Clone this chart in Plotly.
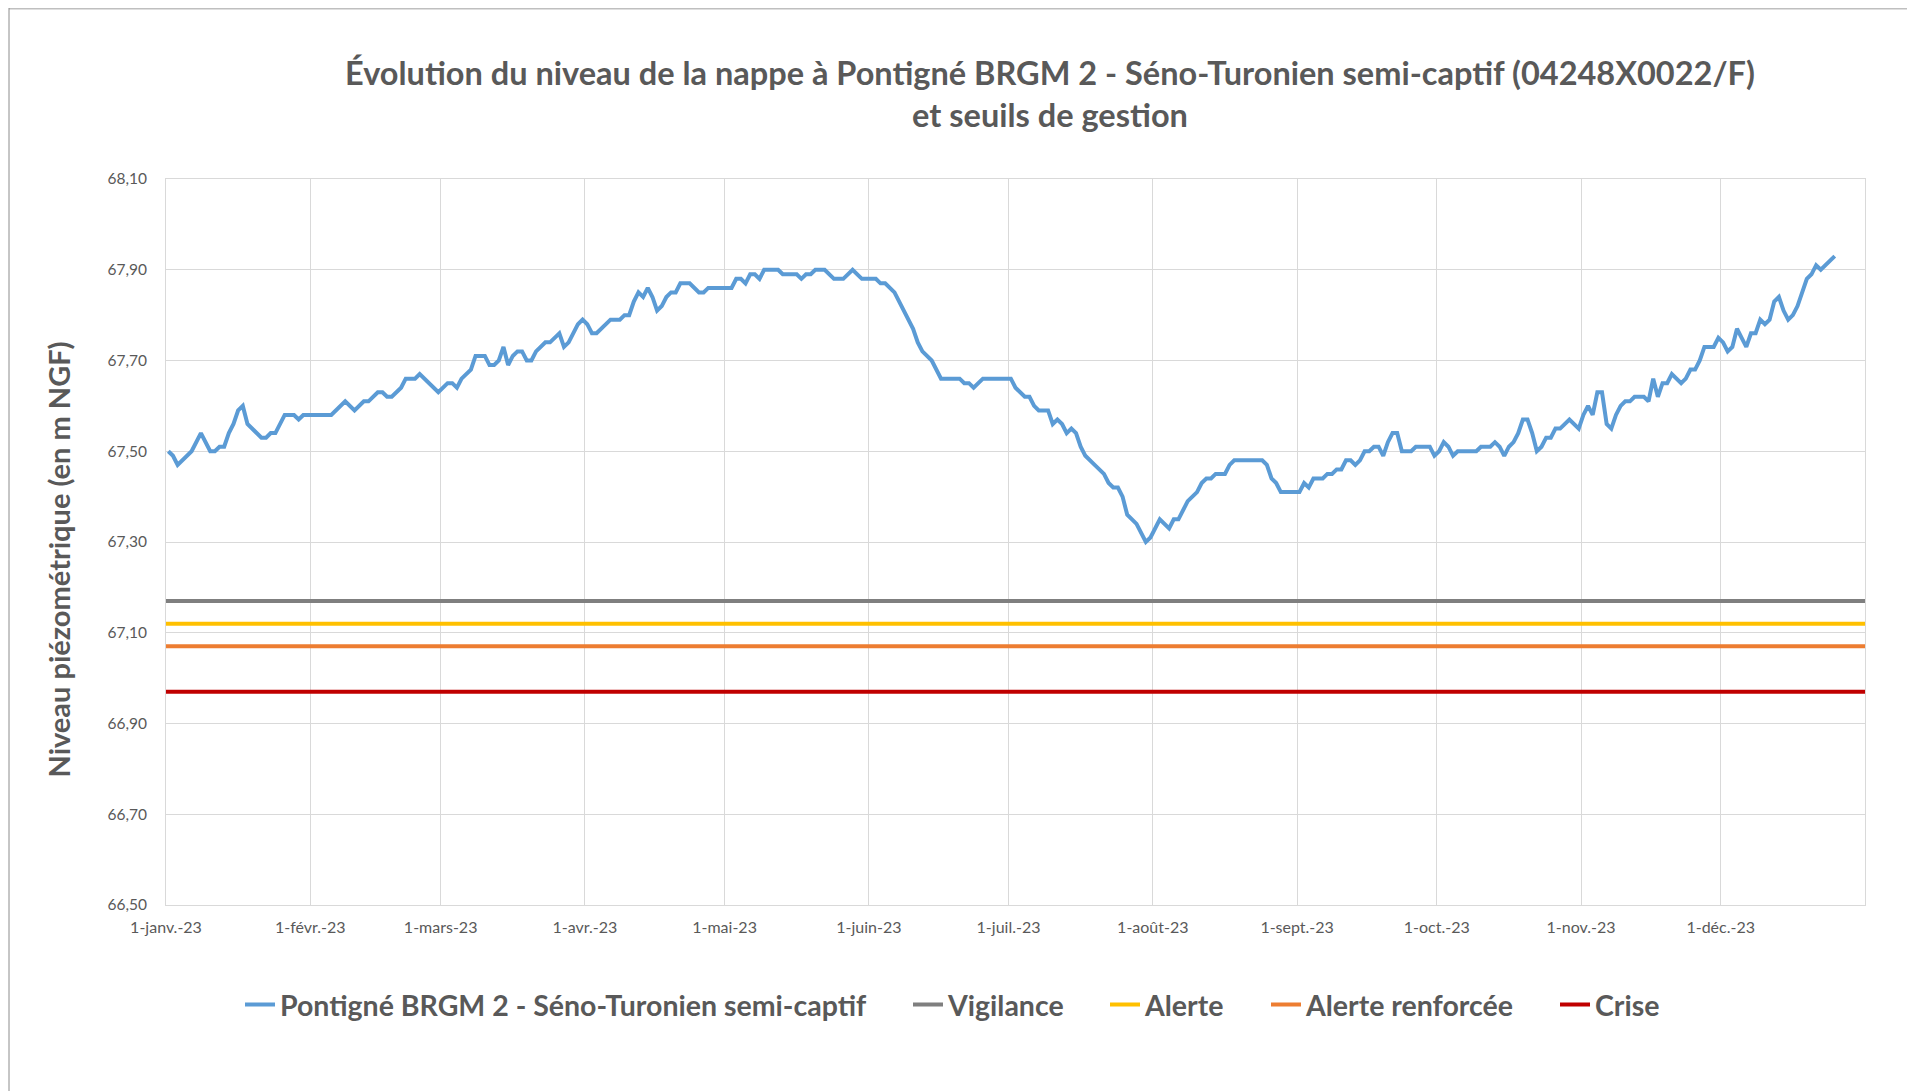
import pandas as pd
import plotly.graph_objects as go

# ---------------- data ----------------
measure_dates = [
    "2023-01-01", "2023-01-02", "2023-01-03", "2023-01-06", "2023-01-08", "2023-01-10", "2023-01-11",
    "2023-01-12", "2023-01-13", "2023-01-14", "2023-01-15", "2023-01-16", "2023-01-17", "2023-01-18",
    "2023-01-21", "2023-01-22", "2023-01-23", "2023-01-24", "2023-01-26", "2023-01-28", "2023-01-29",
    "2023-01-30", "2023-02-05", "2023-02-08", "2023-02-10", "2023-02-12", "2023-02-13", "2023-02-15",
    "2023-02-16", "2023-02-17", "2023-02-18", "2023-02-20", "2023-02-21", "2023-02-23", "2023-02-24",
    "2023-02-28", "2023-03-02", "2023-03-03", "2023-03-04", "2023-03-05", "2023-03-07", "2023-03-08",
    "2023-03-10", "2023-03-11", "2023-03-12", "2023-03-13", "2023-03-14", "2023-03-15", "2023-03-16",
    "2023-03-17", "2023-03-18", "2023-03-19", "2023-03-20", "2023-03-21", "2023-03-23", "2023-03-24",
    "2023-03-26", "2023-03-27", "2023-03-28", "2023-03-30", "2023-03-31", "2023-04-01", "2023-04-02",
    "2023-04-03", "2023-04-06", "2023-04-08", "2023-04-09", "2023-04-10", "2023-04-11", "2023-04-12",
    "2023-04-13", "2023-04-14", "2023-04-15", "2023-04-16", "2023-04-17", "2023-04-18", "2023-04-19",
    "2023-04-20", "2023-04-21", "2023-04-23", "2023-04-25", "2023-04-26", "2023-04-27", "2023-05-02",
    "2023-05-03", "2023-05-04", "2023-05-05", "2023-05-06", "2023-05-07", "2023-05-08", "2023-05-09",
    "2023-05-12", "2023-05-13", "2023-05-16", "2023-05-17", "2023-05-18", "2023-05-19", "2023-05-20",
    "2023-05-22", "2023-05-24", "2023-05-26", "2023-05-28", "2023-05-30", "2023-06-02", "2023-06-03",
    "2023-06-04", "2023-06-06", "2023-06-10", "2023-06-11", "2023-06-12", "2023-06-14", "2023-06-16",
    "2023-06-20", "2023-06-21", "2023-06-22", "2023-06-23", "2023-06-25", "2023-07-01", "2023-07-02",
    "2023-07-04", "2023-07-05", "2023-07-06", "2023-07-07", "2023-07-09", "2023-07-10", "2023-07-11",
    "2023-07-12", "2023-07-13", "2023-07-14", "2023-07-15", "2023-07-16", "2023-07-17", "2023-07-19",
    "2023-07-21", "2023-07-22", "2023-07-23", "2023-07-24", "2023-07-25", "2023-07-26", "2023-07-28",
    "2023-07-30", "2023-07-31", "2023-08-02", "2023-08-04", "2023-08-05", "2023-08-06", "2023-08-08",
    "2023-08-10", "2023-08-11", "2023-08-12", "2023-08-13", "2023-08-14", "2023-08-16", "2023-08-17",
    "2023-08-18", "2023-08-24", "2023-08-25", "2023-08-26", "2023-08-27", "2023-08-28", "2023-09-01",
    "2023-09-02", "2023-09-03", "2023-09-04", "2023-09-06", "2023-09-07", "2023-09-08", "2023-09-09",
    "2023-09-10", "2023-09-11", "2023-09-12", "2023-09-13", "2023-09-14", "2023-09-15", "2023-09-16",
    "2023-09-17", "2023-09-18", "2023-09-19", "2023-09-20", "2023-09-21", "2023-09-22", "2023-09-23",
    "2023-09-25", "2023-09-26", "2023-09-29", "2023-09-30", "2023-10-01", "2023-10-02", "2023-10-03",
    "2023-10-04", "2023-10-05", "2023-10-09", "2023-10-10", "2023-10-12", "2023-10-13", "2023-10-14",
    "2023-10-15", "2023-10-16", "2023-10-17", "2023-10-18", "2023-10-19", "2023-10-20", "2023-10-21",
    "2023-10-22", "2023-10-23", "2023-10-24", "2023-10-25", "2023-10-26", "2023-10-27", "2023-10-29",
    "2023-10-31", "2023-11-01", "2023-11-02", "2023-11-03", "2023-11-04", "2023-11-05", "2023-11-06",
    "2023-11-07", "2023-11-08", "2023-11-09", "2023-11-10", "2023-11-11", "2023-11-12", "2023-11-14",
    "2023-11-15", "2023-11-16", "2023-11-17", "2023-11-18", "2023-11-19", "2023-11-20", "2023-11-22",
    "2023-11-23", "2023-11-24", "2023-11-25", "2023-11-26", "2023-11-27", "2023-11-29", "2023-11-30",
    "2023-12-01", "2023-12-02", "2023-12-03", "2023-12-04", "2023-12-05", "2023-12-06", "2023-12-07",
    "2023-12-08", "2023-12-09", "2023-12-10", "2023-12-11", "2023-12-12", "2023-12-13", "2023-12-14",
    "2023-12-15", "2023-12-16", "2023-12-17", "2023-12-18", "2023-12-19", "2023-12-20", "2023-12-21",
    "2023-12-22", "2023-12-25",
]

niveau = [
    67.50, 67.49, 67.47, 67.50, 67.54, 67.50, 67.50,
    67.51, 67.51, 67.54, 67.56, 67.59, 67.60, 67.56,
    67.53, 67.53, 67.54, 67.54, 67.58, 67.58, 67.57,
    67.58, 67.58, 67.61, 67.59, 67.61, 67.61, 67.63,
    67.63, 67.62, 67.62, 67.64, 67.66, 67.66, 67.67,
    67.63, 67.65, 67.65, 67.64, 67.66, 67.68, 67.71,
    67.71, 67.69, 67.69, 67.70, 67.73, 67.69, 67.71,
    67.72, 67.72, 67.70, 67.70, 67.72, 67.74, 67.74,
    67.76, 67.73, 67.74, 67.78, 67.79, 67.78, 67.76,
    67.76, 67.79, 67.79, 67.80, 67.80, 67.83, 67.85,
    67.84, 67.86, 67.84, 67.81, 67.82, 67.84, 67.85,
    67.85, 67.87, 67.87, 67.85, 67.85, 67.86, 67.86,
    67.88, 67.88, 67.87, 67.89, 67.89, 67.88, 67.90,
    67.90, 67.89, 67.89, 67.88, 67.89, 67.89, 67.90,
    67.90, 67.88, 67.88, 67.90, 67.88, 67.88, 67.87,
    67.87, 67.85, 67.77, 67.74, 67.72, 67.70, 67.66,
    67.66, 67.65, 67.65, 67.64, 67.66, 67.66, 67.64,
    67.62, 67.62, 67.60, 67.59, 67.59, 67.56, 67.57,
    67.56, 67.54, 67.55, 67.54, 67.51, 67.49, 67.47,
    67.45, 67.43, 67.42, 67.42, 67.40, 67.36, 67.34,
    67.30, 67.31, 67.35, 67.33, 67.35, 67.35, 67.39,
    67.41, 67.43, 67.44, 67.44, 67.45, 67.45, 67.47,
    67.48, 67.48, 67.47, 67.44, 67.43, 67.41, 67.41,
    67.43, 67.42, 67.44, 67.44, 67.45, 67.45, 67.46,
    67.46, 67.48, 67.48, 67.47, 67.48, 67.50, 67.50,
    67.51, 67.51, 67.49, 67.52, 67.54, 67.54, 67.50,
    67.50, 67.51, 67.51, 67.49, 67.50, 67.52, 67.51,
    67.49, 67.50, 67.50, 67.51, 67.51, 67.52, 67.51,
    67.49, 67.51, 67.52, 67.54, 67.57, 67.57, 67.54,
    67.50, 67.51, 67.53, 67.53, 67.55, 67.55, 67.57,
    67.55, 67.58, 67.60, 67.58, 67.63, 67.63, 67.56,
    67.55, 67.58, 67.60, 67.61, 67.61, 67.62, 67.62,
    67.61, 67.66, 67.62, 67.65, 67.65, 67.67, 67.65,
    67.66, 67.68, 67.68, 67.70, 67.73, 67.73, 67.75,
    67.74, 67.72, 67.73, 67.77, 67.75, 67.73, 67.76,
    67.76, 67.79, 67.78, 67.79, 67.83, 67.84, 67.81,
    67.79, 67.80, 67.82, 67.85, 67.88, 67.89, 67.91,
    67.90, 67.93,
]

seuil_names = ["Vigilance", "Alerte", "Alerte renforcée", "Crise"]
seuil_values = [67.17, 67.12, 67.07, 66.97]
seuil_span = ["2023-01-01", "2024-01-01"]

series_name = "Pontigné BRGM 2 - Séno-Turonien semi-captif"

x_tick_dates = ["2023-01-01", "2023-02-01", "2023-03-01", "2023-04-01", "2023-05-01", "2023-06-01",
                "2023-07-01", "2023-08-01", "2023-09-01", "2023-10-01", "2023-11-01", "2023-12-01"]
x_tick_text = ["1-janv.-23", "1-févr.-23", "1-mars-23", "1-avr.-23", "1-mai-23", "1-juin-23",
               "1-juil.-23", "1-août-23", "1-sept.-23", "1-oct.-23", "1-nov.-23", "1-déc.-23"]
y_tick_vals = [66.50, 66.70, 66.90, 67.10, 67.30, 67.50, 67.70, 67.90, 68.10]
y_tick_text = ["66,50", "66,70", "66,90", "67,10", "67,30", "67,50", "67,70", "67,90", "68,10"]

title_text = ("Évolution du niveau de la nappe à Pontigné BRGM 2 - Séno-Turonien semi-captif (04248X0022/F)"
              "<br>et seuils de gestion")
y_title = "Niveau piézométrique (en m NGF)"

# ---------------- style ----------------
TEXT = "#595959"
GRID = "#D9D9D9"
FONT = "Lato"
seuil_colors = ["#7F7F7F", "#FFC000", "#ED7D31", "#C00000"]

# the page body adds an 8 px margin, so the figure is 8 px smaller
W, H = 1907, 1083
L, R, T, B = 158, 50, 171, 186
pw, ph = W - L - R, H - T - B

def px_x(px):
    return (px - L) / pw

def px_y(py):
    return (H - B - py) / ph

# legend entry text starts (figure px) for each series
legend_text_x = [273, 941, 1138, 1299, 1588]
legend_names = ["legend", "legend2", "legend3", "legend4", "legend5"]

# points are drawn in the middle of each day (Excel "between tick marks")
x_meas = pd.to_datetime(measure_dates) + pd.Timedelta(hours=12)

fig = go.Figure()
fig.add_trace(go.Scatter(
    x=x_meas, y=niveau, mode="lines", name=series_name, legend=legend_names[0],
    line=dict(color="#5B9BD5", width=4, shape="linear"),
))
for i, (name, val, col) in enumerate(zip(seuil_names, seuil_values, seuil_colors)):
    fig.add_trace(go.Scatter(
        x=pd.to_datetime(seuil_span), y=[val, val], mode="lines", name=name,
        legend=legend_names[i + 1],
        line=dict(color=col, width=4),
    ))

legend_font = dict(family=FONT, size=28.5, color=TEXT, weight="bold")
legend_layout = {}
for lname, tx in zip(legend_names, legend_text_x):
    legend_layout[lname] = dict(
        orientation="h", x=px_x(tx - 41), xanchor="left", y=px_y(997), yanchor="middle",
        font=legend_font, itemwidth=30, bgcolor="rgba(0,0,0,0)", borderwidth=0,
    )

fig.update_layout(
    width=W, height=H,
    margin=dict(l=L, r=R, t=T, b=B, autoexpand=False),
    paper_bgcolor="white", plot_bgcolor="white",
    font=dict(family=FONT, color=TEXT),
    title=dict(
        text=title_text, x=px_x(1042), xanchor="center", xref="paper",
        y=1 - 77 / H, yanchor="top", yref="container",
        font=dict(family=FONT, size=32.5, color=TEXT, weight="bold"),
    ),
    showlegend=True,
    xaxis=dict(
        type="date", range=["2023-01-01", "2024-01-01"],
        tickvals=pd.to_datetime(x_tick_dates), ticktext=x_tick_text,
        showgrid=True, gridcolor=GRID, gridwidth=1,
        showline=True, linecolor=GRID, linewidth=1, mirror=True,
        ticks="outside", ticklen=8, tickcolor="rgba(0,0,0,0)",
        tickfont=dict(family=FONT, size=16, color=TEXT),
        zeroline=False,
    ),
    yaxis=dict(
        range=[66.50, 68.10],
        tickvals=y_tick_vals, ticktext=y_tick_text,
        showgrid=True, gridcolor=GRID, gridwidth=1,
        showline=True, linecolor=GRID, linewidth=1, mirror=True,
        ticks="outside", ticklen=15, tickcolor="rgba(0,0,0,0)",
        tickfont=dict(family=FONT, size=15.5, color=TEXT),
        zeroline=False,
    ),
    annotations=[
        dict(text=y_title, textangle=-90, xref="paper", yref="paper",
             x=px_x(49.5), y=px_y(552), xanchor="center", yanchor="middle",
             showarrow=False,
             font=dict(family=FONT, size=29, color=TEXT, weight="bold")),
    ],
    shapes=[
        dict(type="line", xref="paper", yref="paper",
             x0=px_x(1), x1=px_x(1903), y0=px_y(0.5), y1=px_y(0.5),
             line=dict(color="#BFBFBF", width=2)),
        dict(type="line", xref="paper", yref="paper",
             x0=px_x(1), x1=px_x(1), y0=px_y(0), y1=px_y(H + 10),
             line=dict(color="#8C8C8C", width=1)),
        dict(type="line", xref="paper", yref="paper",
             x0=px_x(1903), x1=px_x(1903), y0=px_y(0), y1=px_y(H + 10),
             line=dict(color="#8C8C8C", width=1)),
    ],
    **legend_layout,
)

fig.write_html("out.html")
